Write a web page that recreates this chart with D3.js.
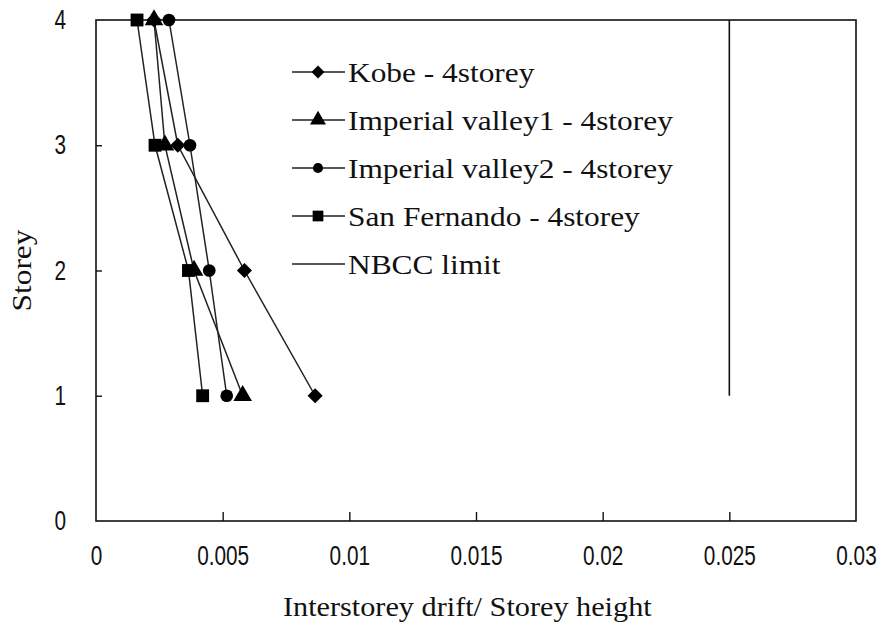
<!DOCTYPE html>
<html>
<head>
<meta charset="utf-8">
<script src="https://cdn.jsdelivr.net/npm/d3@7"></script>
<style>
  html, body { margin: 0; padding: 0; background: #fff; }
  svg { display: block; }
</style>
</head>
<body>
<script>
// Storey levels (y) and interstorey drift ratios (x) for each record
const storeys = [1, 2, 3, 4];
const kobe = [0.00865, 0.00586, 0.00323, 0.00229];
const imperial1 = [0.00579, 0.00387, 0.00272, 0.00229];
const imperial2 = [0.00516, 0.00447, 0.00371, 0.00288];
const sanFernando = [0.00421, 0.00365, 0.00233, 0.00162];
const nbccLimit = 0.025;
const nbccStoreys = [1, 4];

const xTicks = [0, 0.005, 0.01, 0.015, 0.02, 0.025, 0.03];
const yTicks = [0, 1, 2, 3, 4];

const seriesNames = [
  "Kobe - 4storey",
  "Imperial valley1 - 4storey",
  "Imperial valley2 - 4storey",
  "San Fernando - 4storey",
  "NBCC limit"
];

const W = 888, H = 627;
const plotL = 96, plotR = 856, plotT = 20, plotB = 521;

const svg = d3.select("body").append("svg").attr("width", W).attr("height", H);

const x = d3.scaleLinear().domain([0, 0.03]).range([plotL, plotR]);
const y = d3.scaleLinear().domain([0, 4]).range([plotB, plotT]);

const serif = "'Liberation Serif', 'Times New Roman', serif";
const sans = "'Liberation Sans', Arial, sans-serif";

// Stretch or squeeze a text node horizontally by a factor of its natural width
function stretch(sel, k) {
  sel.each(function () {
    const len = this.getComputedTextLength();
    d3.select(this).attr("textLength", len * k).attr("lengthAdjust", "spacingAndGlyphs");
  });
}

// Plot frame
svg.append("rect")
  .attr("x", plotL).attr("y", plotT)
  .attr("width", plotR - plotL).attr("height", plotB - plotT)
  .attr("fill", "none").attr("stroke", "#111").attr("stroke-width", 1.6);

// X axis: inward ticks, labels below
const xAxis = svg.append("g").attr("transform", `translate(0,${plotB})`)
  .call(d3.axisBottom(x).tickValues(xTicks).tickSize(-9).tickPadding(25)
    .tickFormat(d => d === 0 ? "0" : String(+d.toFixed(3))));
xAxis.select(".domain").remove();
xAxis.selectAll(".tick line").attr("stroke", "#111").attr("stroke-width", 1.4)
  .filter(d => d === 0 || d === 0.03).remove();
xAxis.selectAll("text").attr("font-family", sans).attr("font-size", 27).attr("fill", "#111")
  .call(stretch, 0.77);

// Y axis: inward ticks, labels at left
const yAxis = svg.append("g").attr("transform", `translate(${plotL},0)`)
  .call(d3.axisLeft(y).tickValues(yTicks).tickSize(-6).tickPadding(30).tickFormat(d3.format("d")));
yAxis.select(".domain").remove();
yAxis.selectAll(".tick line").attr("stroke", "#111").attr("stroke-width", 1.4)
  .filter(d => d === 0 || d === 4).remove();
yAxis.selectAll("text").attr("font-family", sans).attr("font-size", 27).attr("fill", "#111")
  .call(stretch, 0.77);

// Axis titles
svg.append("text")
  .attr("x", 283).attr("y", 616)
  .attr("font-family", serif).attr("font-size", 28).attr("fill", "#111")
  .text("Interstorey drift/ Storey height")
  .call(stretch, 1.08);
svg.append("text")
  .attr("transform", `translate(31,${(plotT + plotB) / 2}) rotate(-90)`)
  .attr("text-anchor", "middle")
  .attr("font-family", serif).attr("font-size", 28).attr("fill", "#111")
  .text("Storey")
  .call(stretch, 1.12);

// NBCC drift limit
svg.append("line")
  .attr("x1", x(nbccLimit)).attr("x2", x(nbccLimit))
  .attr("y1", y(nbccStoreys[0])).attr("y2", y(nbccStoreys[1]))
  .attr("stroke", "#111").attr("stroke-width", 1.6);

const series = [
  { values: kobe, symbol: d3.symbolSquare, rot: 45, size: 115, legSize: 85 },
  { values: imperial1, symbol: d3.symbolTriangle, rot: 0, size: 150, legSize: 110 },
  { values: imperial2, symbol: d3.symbolCircle, rot: 0, size: 127, legSize: 80 },
  { values: sanFernando, symbol: d3.symbolSquare, rot: 0, size: 165, legSize: 115 }
];

const line = d3.line().x(d => x(d[0])).y(d => y(d[1]));

series.forEach(s => {
  const pts = s.values.map((v, i) => [v, storeys[i]]);
  svg.append("path").datum(pts).attr("d", line)
    .attr("fill", "none").attr("stroke", "#222").attr("stroke-width", 1.5);
});
// markers drawn after lines so they sit on top
series.slice().reverse().forEach(s => {
  const pts = s.values.map((v, i) => [v, storeys[i]]);
  svg.append("g").selectAll("path").data(pts).join("path")
    .attr("transform", d => `translate(${x(d[0])},${y(d[1])}) rotate(${s.rot})`)
    .attr("d", d3.symbol().type(s.symbol).size(s.size))
    .attr("fill", "#000");
});

// Legend
const legX = 292, legY0 = 72, legStep = 48;
seriesNames.forEach((name, i) => {
  const g = svg.append("g").attr("transform", `translate(${legX},${legY0 + i * legStep})`);
  g.append("line").attr("x1", 0).attr("x2", 53).attr("y1", 0).attr("y2", 0)
    .attr("stroke", "#222").attr("stroke-width", 1.5);
  if (i < series.length) {
    g.append("path").attr("transform", `translate(26,0) rotate(${series[i].rot})`)
      .attr("d", d3.symbol().type(series[i].symbol).size(series[i].legSize))
      .attr("fill", "#000");
  }
  g.append("text").attr("x", 56).attr("y", 10)
    .attr("font-family", serif).attr("font-size", 28).attr("fill", "#111")
    .text(name)
    .call(stretch, 1.12);
});
</script>
</body>
</html>
